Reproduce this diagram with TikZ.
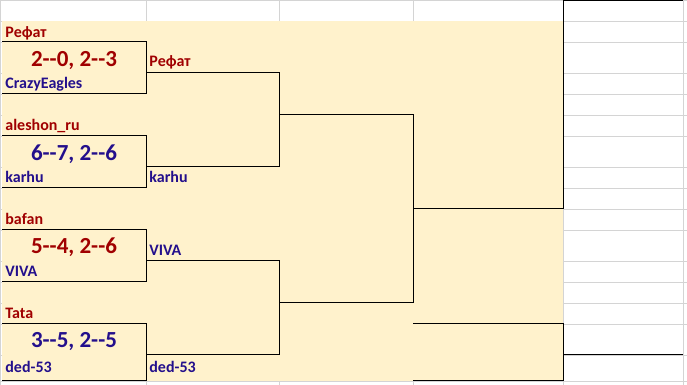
\documentclass[tikz,border=0pt]{standalone}
\usepackage{fontspec}
\setmainfont{Carlito}
\usepackage{xcolor}
\usepackage{tikz}

\definecolor{cellyellow}{RGB}{255,242,204}
\definecolor{gridgray}{RGB}{212,212,212}
\definecolor{redname}{RGB}{160,0,0}
\definecolor{bluename}{RGB}{35,15,140}

\tikzset{
  player/.style={font=\bfseries\fontsize{8}{9}\selectfont, anchor=base west, inner sep=0pt},
  score/.style={font=\bfseries\fontsize{11.5}{13}\selectfont, anchor=base, inner sep=0pt},
  bracket/.style={line width=0.5pt},
}

\begin{document}
\begin{tikzpicture}[x=0.5pt,y=-0.5pt]

\useasboundingbox (0,0) rectangle (687,385);

% sheet grid
\foreach \r in {0.5,21,42,73,94,115,136,167,188,209,230,261,282,303,324,355,381}
  \draw[gridgray] (0,\r) -- (687,\r);
\foreach \c in {0.5,146,279,413,563,683.5}
  \draw[gridgray] (\c,0) -- (\c,385);
\fill[cellyellow] (2,21) rectangle (563,381);

% first round
\coordinate (m1a) at (2,42);   \coordinate (m1b) at (146,42);
\coordinate (m1c) at (146,94); \coordinate (m1d) at (2,94);
\coordinate (m2a) at (2,136);   \coordinate (m2b) at (146,136);
\coordinate (m2c) at (146,188); \coordinate (m2d) at (2,188);
\coordinate (m3a) at (2,230);   \coordinate (m3b) at (146,230);
\coordinate (m3c) at (146,282); \coordinate (m3d) at (2,282);
\coordinate (m4a) at (2,324);   \coordinate (m4b) at (146,324);
\coordinate (m4c) at (146,381); \coordinate (m4d) at (2,381);

\draw[bracket] (m1a) -- (m1b) -- (m1c) -- (m1d);
\draw[bracket] (m2a) -- (m2b) -- (m2c) -- (m2d);
\draw[bracket] (m3a) -- (m3b) -- (m3c) -- (m3d);
\draw[bracket] (m4a) -- (m4b) -- (m4c) -- (m4d);

% second round
\coordinate (s1) at (146,73);  \coordinate (s1r) at (279,73);
\coordinate (s2) at (146,167); \coordinate (s2r) at (279,167);
\coordinate (s3) at (146,261); \coordinate (s3r) at (279,261);
\coordinate (s4) at (146,355); \coordinate (s4r) at (279,355);

\draw[bracket] (s1) -- (s1r) -- (s2r) -- (s2);
\draw[bracket] (s3) -- (s3r) -- (s4r) -- (s4);

% final
\coordinate (t1) at (279,115); \coordinate (t1r) at (413,115);
\coordinate (t2) at (279,303); \coordinate (t2r) at (413,303);
\coordinate (f1) at (413,209); \coordinate (f1r) at (563,209);
\coordinate (win) at (563,0.8); \coordinate (winr) at (683,0.8);

\draw[bracket] (t1) -- (t1r) -- (t2r) -- (t2);
\draw[bracket] (f1) -- (f1r) -- (win) -- (winr);

% third place
\coordinate (b1) at (413,324); \coordinate (b1r) at (563,324);
\coordinate (b2) at (413,381); \coordinate (b2r) at (563,381);
\coordinate (b3) at (563,355); \coordinate (b3r) at (683,355);

\draw[bracket] (b1) -- (b1r) -- (b2r) -- (b2);
\draw[bracket] (b3) -- (b3r);

% names and scores
\node[player, redname] (p1) at (5,38) {Рефат};
\node[score, redname] (sc1) at (74,67) {2-{}-0, 2-{}-3};
\node[player, bluename] (p2) at (5,89) {CrazyEagles};

\node[player, redname] (p3) at (5,131) {aleshon\_ru};
\node[score, bluename] (sc2) at (74,161) {6-{}-7, 2-{}-6};
\node[player, bluename] (p4) at (5,183) {karhu};

\node[player, redname] (p5) at (5,225) {bafan};
\node[score, redname] (sc3) at (74,254) {5-{}-4, 2-{}-6};
\node[player, bluename] (p6) at (5,277) {VIVA};

\node[player, redname] (p7) at (5,319) {Tata};
\node[score, bluename] (sc4) at (74,348) {3-{}-5, 2-{}-5};
\node[player, bluename] (p8) at (5,373) {ded-53};

\node[player, redname] (q1) at (149,67) {Рефат};
\node[player, bluename] (q2) at (149,183) {karhu};
\node[player, bluename] (q3) at (149,256) {VIVA};
\node[player, bluename] (q4) at (149,373) {ded-53};

\end{tikzpicture}
\end{document}
